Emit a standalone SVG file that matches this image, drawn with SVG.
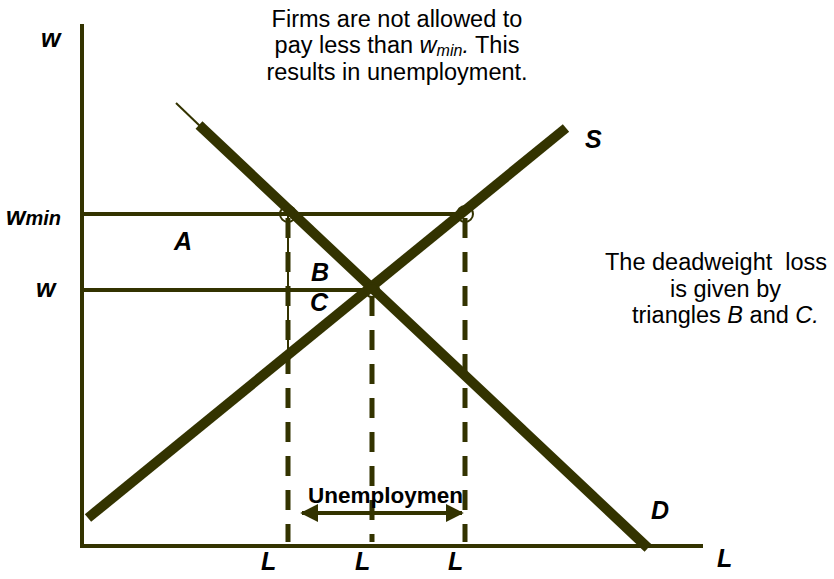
<svg xmlns="http://www.w3.org/2000/svg" width="834" height="579" viewBox="0 0 834 579">
<defs>
<style>
.ax{stroke:#333300;stroke-width:4;fill:none}
.crv{stroke:#333300;stroke-width:10;fill:none}
.dash{stroke:#333300;stroke-width:5;stroke-dasharray:20 14;fill:none}
.thin{stroke:#333300;stroke-width:2;fill:none}
.circ{stroke:#333300;stroke-width:2;fill:none}
.lab{font-family:"Liberation Sans",Arial,sans-serif;font-weight:bold;font-style:italic;font-size:25px;fill:#000}
.txt{font-family:"Liberation Sans",Arial,sans-serif;font-size:23.5px;fill:#000}
</style>
<marker id="ah" viewBox="0 0 10 10" refX="9" refY="5" markerWidth="4.5" markerHeight="4.5" orient="auto-start-reverse" markerUnits="strokeWidth">
<path d="M0,0 L10,5 L0,10 z" fill="#333300"/>
</marker>
</defs>
<rect width="834" height="579" fill="#fff"/>
<g id="axes">
<line class="ax" x1="82" y1="24" x2="82" y2="548"/>
<line class="ax" x1="80" y1="546" x2="703" y2="546"/>
</g>
<g id="connectors">
<line class="ax" x1="82" y1="214" x2="466" y2="214"/>
<line class="ax" x1="82" y1="290" x2="372" y2="290"/>
<line class="thin" x1="288" y1="214" x2="288" y2="372"/>
<line class="dash" x1="288" y1="218" x2="288" y2="542"/>
<line class="dash" x1="372" y1="296" x2="372" y2="542"/>
<line class="dash" x1="465" y1="218" x2="465" y2="542"/>
<line class="thin" x1="176" y1="103" x2="201" y2="127"/>
<line class="crv" x1="199" y1="125" x2="648" y2="548"/>
<line class="crv" x1="88" y1="518" x2="566" y2="128"/>
<circle class="circ" cx="288" cy="214" r="8"/>
<circle class="circ" cx="465" cy="214" r="8"/>
<circle class="circ" cx="372" cy="290" r="7"/>
<line class="ax" x1="302" y1="513" x2="462" y2="513" marker-start="url(#ah)" marker-end="url(#ah)"/>
</g>
<g id="labels">
<text class="lab" x="41" y="47" font-size="26">w</text>
<text class="lab" x="6" y="225" font-size="32">w<tspan font-size="20" dy="0">min</tspan></text>
<text class="lab" x="36" y="297" font-size="26">w</text>
<text class="lab" x="174" y="250">A</text>
<text class="lab" x="311" y="281" font-size="23">B</text>
<text class="lab" x="310" y="311" font-size="23">C</text>
<text class="lab" x="585" y="148">S</text>
<text class="lab" x="651" y="519">D</text>
<text class="lab" x="717" y="567">L</text>
<text class="lab" x="261" y="570">L</text>
<text class="lab" x="355" y="570">L</text>
<text class="lab" x="448" y="570">L</text>
<text x="308" y="503" font-family="'Liberation Sans',Arial,sans-serif" font-weight="bold" font-size="22" fill="#000" textLength="155" lengthAdjust="spacingAndGlyphs">Unemploymen</text>
</g>
<g id="note-top">
<text class="txt" text-anchor="middle" x="397" y="27">Firms are not allowed to</text>
<text class="txt" text-anchor="middle" x="397" y="53">pay less than <tspan font-style="italic">w</tspan><tspan font-style="italic" font-size="16" dy="3">min</tspan><tspan font-style="italic" dy="-3">.</tspan> This</text>
<text class="txt" text-anchor="middle" x="397" y="80">results in unemployment.</text>
</g>
<g id="note-right">
<text class="txt" x="605" y="270" xml:space="preserve">The deadweight  loss</text>
<text class="txt" x="670" y="297">is given by</text>
<text class="txt" x="632" y="323">triangles <tspan font-style="italic">B</tspan> and <tspan font-style="italic">C.</tspan></text>
</g>
</svg>
